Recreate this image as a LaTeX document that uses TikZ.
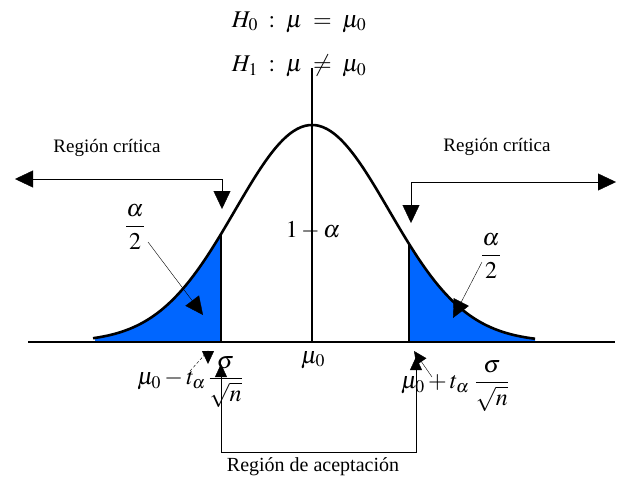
\documentclass[tikz,border=0pt]{standalone}
\usepackage{amsmath}
\usepackage{mathptmx}
\usepackage{fontspec}
\setmainfont{Liberation Serif}
\usetikzlibrary{arrows.meta}
\definecolor{tailblue}{RGB}{0,102,255}

\begin{document}
\begin{tikzpicture}[x=1pt, y=-1pt, every node/.style={font=\fontsize{24}{26}\selectfont},
    big/.style={-{Triangle[length=18pt,width=17pt]}},
    small/.style={-{Triangle[length=13pt,width=12pt]}},
    lbl/.style={font=\fontsize{19}{21}\selectfont}]
    \useasboundingbox (0,0) rectangle (627,477);

    % shaded tails
    \fill[tailblue] (95,342) -- plot[domain=95:221, samples=60] (\x, {342-217*exp(-0.5*((\x-312)/77)^2)}) -- (221,342) -- cycle;
    \fill[tailblue] (409,342) -- plot[domain=409:535, samples=60] (\x, {342-217*exp(-0.5*((\x-312)/77)^2)}) -- (535,342) -- cycle;

    % axes and curve
    \draw[line width=2.2pt] (28,342) -- (615,342);
    \draw[line width=2.2pt] (312,68) -- (312,342);
    \draw[line width=2.2pt] (221,342) -- (221,{342-217*exp(-0.5*((221-312)/77)^2)});
    \draw[line width=2.2pt] (409,342) -- (409,{342-217*exp(-0.5*((409-312)/77)^2)});
    \draw[line width=2.6pt] plot[domain=93:535, samples=120, smooth] (\x, {342-217*exp(-0.5*((\x-312)/77)^2)});

    % hypotheses
    \node (h0) at (299,22) {$H_0 \;:\; \mu \;=\; \mu_0$};
    \node (h1) at (299,66) {$H_1 \;:\; \mu \;\neq\; \mu_0$};

    % critical regions
    \node[lbl] (rcl) at (107,148) {Región crítica};
    \node[lbl] (rcr) at (497,147) {Región crítica};
    \coordinate (lcw) at (15,179);
    \coordinate (lce) at (222,179);
    \coordinate (lcd) at (222,209);
    \coordinate (rcw) at (411,182);
    \coordinate (rce) at (616,182);
    \coordinate (rcd) at (411,223);
    \draw[thin, {Triangle[length=18pt,width=17pt]}-{Triangle[length=18pt,width=17pt]}] (lcw) -- (lce) -- (lcd);
    \draw[thin, {Triangle[length=18pt,width=17pt]}-{Triangle[length=18pt,width=17pt]}] (rcd) -- (rcw) -- (rce);

    % areas
    \node (onemalpha) at (313,230) {$1-\alpha$};
    \node (al) at (135,227) {$\dfrac{\alpha}{2}$};
    \node (ar) at (491,256) {$\dfrac{\alpha}{2}$};
    \coordinate (alt) at (203,315);
    \coordinate (art) at (453,318);
    \draw[thin, big] (148,242) -- (alt);
    \draw[thin, big] (482,262) -- (art);

    % critical values
    \node (mu) at (313,360) {$\mu_0$};
    \node (cvl) at (190,382) {$\mu_0 - t_\alpha\,\dfrac{\sigma}{\sqrt{n}}$};
    \node (cvr) at (455,386) {$\mu_0 + t_\alpha\;\dfrac{\sigma}{\sqrt{n}}$};
    \coordinate (ltA) at (190,371);
    \coordinate (ltB) at (208,351);
    \coordinate (ltC) at (208,364);
    \draw[thin, densely dashed, small] (ltA) -- (ltB) -- (ltC);
    \coordinate (rtA) at (432,377);
    \coordinate (rtB) at (414,351);
    \draw[thin, small] (rtA) -- (rtB);

    % acceptance region
    \coordinate (accl) at (221,364);
    \coordinate (accb) at (221,452);
    \coordinate (accr) at (416,357);
    \draw[thin, {Triangle[length=13pt,width=12pt]}-{Triangle[length=13pt,width=12pt]}] (accl) -- (accb) -| (accr);
    \node[lbl, font=\fontsize{20}{22}\selectfont] (acc) at (313,467) {Región de aceptación};
\end{tikzpicture}
\end{document}
